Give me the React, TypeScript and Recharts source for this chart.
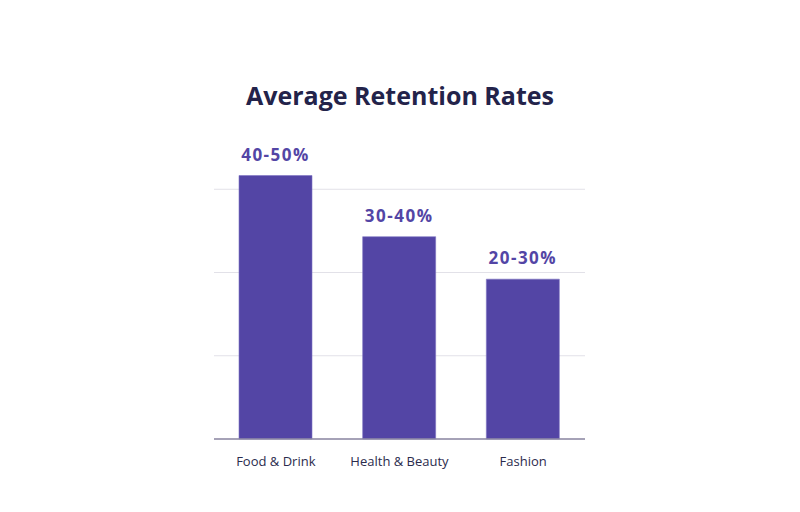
import { BarChart, Bar, XAxis, YAxis, CartesianGrid, LabelList } from "recharts";

const categories = ["Food & Drink", "Health & Beauty", "Fashion"];
const retention = [31.65, 24.3, 19.2];
const rangeLabels = ["40-50%", "30-40%", "20-30%"];
const gridTicks = [0, 10, 20, 30];

const data = categories.map((name, i) => ({
  name,
  value: retention[i],
  label: rangeLabels[i],
}));

const FONT = "'Open Sans', Lato, sans-serif";

export default function App() {
  return (
    <div style={{ position: "absolute", left: 0, top: 0, width: 800, height: 512, background: "#fff" }}>
      <div
        style={{
          position: "absolute",
          top: 78,
          left: 0,
          width: 800,
          textAlign: "center",
          fontFamily: FONT,
          fontWeight: 700,
          fontSize: 25,
          color: "#23234a",
          lineHeight: "34px",
        }}
      >
        Average Retention Rates
      </div>
      <BarChart
        width={800}
        height={512}
        data={data}
        margin={{ top: 106, right: 215, left: 214, bottom: 0 }}
      >
        <CartesianGrid stroke="#e2e1e8" vertical={false} syncWithTicks />
        <YAxis
          width={0}
          domain={[0, 40]}
          ticks={gridTicks}
          interval={0}
          axisLine={false}
          tickLine={false}
          tick={{ fill: "transparent", fontSize: 1 }}
        />
        <XAxis
          dataKey="name"
          height={73}
          axisLine={{ stroke: "#8c89a3", strokeWidth: 1.5 }}
          tickLine={false}
          tick={{ fill: "#2b2b4d", fontSize: 13, fontFamily: FONT }}
          tickMargin={12}
        />
        <Bar
          dataKey="value"
          fill="#5345a5"
          stroke="#7d73c2"
          strokeWidth={0.6}
          barSize={73}
          isAnimationActive={false}
        >
          <LabelList
            dataKey="label"
            position="top"
            offset={15}
            fill="#5345a5"
            fontSize={17}
            fontWeight={700}
            fontFamily={FONT}
            letterSpacing={1.5}
          />
        </Bar>
      </BarChart>
    </div>
  );
}
